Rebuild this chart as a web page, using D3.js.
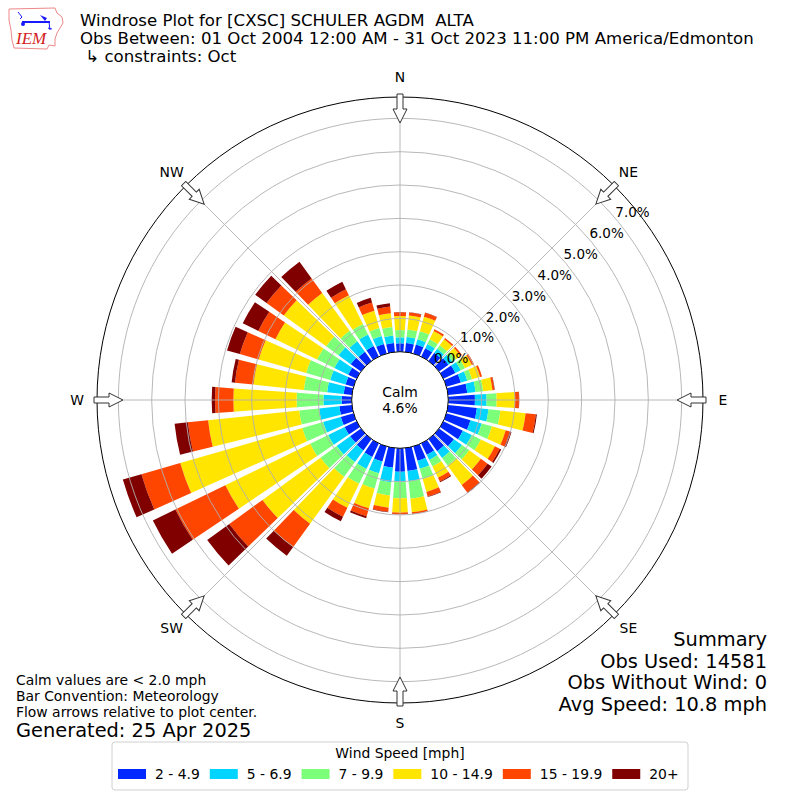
<!DOCTYPE html>
<html>
<head>
<meta charset="utf-8">
<script src="https://cdn.jsdelivr.net/npm/d3@7"></script>
<style>
  body { margin: 0; background: #fff; }
  svg { font-family: "DejaVu Sans", sans-serif; }
  text { white-space: pre; }
</style>
</head>
<body>
<svg width="800" height="800"></svg>
<script>
// directions (deg, meteorological) and frequency (%) per speed bin
const directions = d3.range(0, 360, 10);
const speedBins = ['2 - 4.9', '5 - 6.9', '7 - 9.9', '10 - 14.9', '15 - 19.9', '20+'];
const binColors = ['#0028ff', '#00d4ff', '#7cff79', '#ffe500', '#ff4600', '#800000'];

const bin1 = [0.25,0.27,0.28,0.28,0.30,0.35,0.40,0.45,0.58,0.80,0.87,0.75,0.65,0.55,0.45,0.38,0.45,0.69,0.70,0.59,0.47,0.45,0.42,0.40,0.40,0.40,0.38,0.30,0.25,0.25,0.28,0.38,0.34,0.35,0.30,0.27];
const bin2 = [0.18,0.18,0.17,0.14,0.15,0.15,0.18,0.20,0.25,0.35,0.35,0.35,0.30,0.30,0.25,0.17,0.25,0.31,0.30,0.44,0.37,0.40,0.43,0.50,0.55,0.55,0.61,0.55,0.50,0.48,0.46,0.45,0.39,0.39,0.25,0.23];
const bin3 = [0.22,0.23,0.25,0.16,0.13,0.12,0.14,0.15,0.23,0.30,0.36,0.32,0.30,0.27,0.28,0.22,0.32,0.53,0.50,0.40,0.48,0.50,0.55,0.60,0.60,0.65,0.60,0.80,0.70,0.75,0.58,0.46,0.39,0.35,0.25,0.25];
const bin4 = [0.42,0.42,0.45,0.27,0.22,0.18,0.23,0.25,0.28,0.55,0.76,0.43,0.47,0.43,0.72,0.38,0.40,0.41,0.43,0.37,0.61,0.80,1.74,2.15,2.83,3.81,2.75,1.90,1.52,1.48,1.39,1.57,1.40,0.96,0.54,0.42];
const bin5 = [0.11,0.09,0.12,0.06,0.05,0.05,0.07,0.06,0.06,0.12,0.31,0.13,0.16,0.25,0.28,0.12,0.14,0.04,0.04,0.12,0.25,0.30,0.86,1.23,1.67,1.21,0.61,0.55,0.56,0.59,0.57,0.64,0.54,0.20,0.25,0.20];
const bin6 = [0.01,0.01,0.01,0.00,0.00,0.00,0.00,0.00,0.01,0.01,0.03,0.05,0.05,0.15,0.02,0.03,0.02,0.01,0.01,0.02,0.06,0.15,0.33,0.82,0.75,0.58,0.40,0.10,0.10,0.40,0.52,0.42,0.62,0.25,0.15,0.10];

const ringTicks = [0, 1, 2, 3, 4, 5, 6, 7];
const compass = [['N', 0], ['NE', 45], ['E', 90], ['SE', 135], ['S', 180], ['SW', 225], ['W', 270], ['NW', 315]];
const calmPct = '4.6%';

const titleLines = ['Windrose Plot for [CXSC] SCHULER AGDM  ALTA',
    'Obs Between: 01 Oct 2004 12:00 AM - 31 Oct 2023 11:00 PM America/Edmonton',
    ' \u21b3 constraints: Oct'];
const summaryLines = ['Summary', 'Obs Used: 14581', 'Obs Without Wind: 0', 'Avg Speed: 10.8 mph'];
const noteLines = ['Calm values are < 2.0 mph', 'Bar Convention: Meteorology', 'Flow arrows relative to plot center.'];

const svg = d3.select('svg');
const cx = 400, cy = 400;

const r = d3.scaleLinear().domain([0, 7.64]).range([48.3, 303]);
const ang = d3.scaleLinear().domain([0, 360]).range([0, 2 * Math.PI]);

const rows = directions.map((d, i) => ({
    dir: d, b0: bin1[i], b1: bin2[i], b2: bin3[i], b3: bin4[i], b4: bin5[i], b5: bin6[i]
}));
const keys = ['b0', 'b1', 'b2', 'b3', 'b4', 'b5'];
const series = d3.stack().keys(keys)(rows);

const rose = svg.append('g').attr('transform', `translate(${cx},${cy})`);

const arc = d3.arc()
    .innerRadius(d => r(d[0]))
    .outerRadius(d => r(d[1]))
    .startAngle(d => ang(d.data.dir - 4))
    .endAngle(d => ang(d.data.dir + 4));

rose.append('g').selectAll('g')
    .data(series)
    .join('g')
    .attr('fill', (s, i) => binColors[i])
    .selectAll('path')
    .data(s => s)
    .join('path')
    .attr('d', arc);

// grid
rose.append('g').selectAll('circle')
    .data(ringTicks.slice(1))
    .join('circle')
    .attr('r', d => r(d))
    .attr('fill', 'none')
    .attr('stroke', '#b0b0b0')
    .attr('stroke-width', 0.9);

rose.append('g').selectAll('line')
    .data(compass)
    .join('line')
    .attr('x1', 0).attr('y1', 0)
    .attr('x2', d => r(7.64) * Math.sin(ang(d[1])))
    .attr('y2', d => -r(7.64) * Math.cos(ang(d[1])))
    .attr('stroke', '#b0b0b0')
    .attr('stroke-width', 0.9);

rose.append('circle')
    .attr('r', r(7.64))
    .attr('fill', 'none')
    .attr('stroke', 'black')
    .attr('stroke-width', 1);

// calm circle
rose.append('circle')
    .attr('r', r(0))
    .attr('fill', 'white')
    .attr('stroke', 'black')
    .attr('stroke-width', 1);

rose.append('text').text('Calm')
    .attr('text-anchor', 'middle').attr('y', -3).attr('font-size', 13.9);
rose.append('text').text(calmPct)
    .attr('text-anchor', 'middle').attr('y', 13).attr('font-size', 13.9);

// ring labels
const labAng = ang(51);
rose.append('g').selectAll('text')
    .data(ringTicks)
    .join('text')
    .text(d => d.toFixed(1) + '%')
    .attr('x', d => (r(d) + 17.5) * Math.sin(labAng))
    .attr('y', d => -(r(d) + 17.5) * Math.cos(labAng))
    .attr('dy', '0.36em')
    .attr('text-anchor', 'middle')
    .attr('font-size', 13.5);

// flow arrows
const arrowPath = 'M0,-277 L7,-291 L3,-291 L3,-306 L-3,-306 L-3,-291 L-7,-291 Z';
rose.append('g').selectAll('path')
    .data(compass)
    .join('path')
    .attr('d', arrowPath)
    .attr('transform', d => `rotate(${d[1]})`)
    .attr('fill', 'white')
    .attr('stroke', '#333')
    .attr('stroke-width', 1);

rose.append('g').selectAll('text')
    .data(compass)
    .join('text')
    .text(d => d[0])
    .attr('x', d => 323 * Math.sin(ang(d[1])))
    .attr('y', d => -323 * Math.cos(ang(d[1])))
    .attr('dy', '0.36em')
    .attr('text-anchor', 'middle')
    .attr('font-size', 13.9);

// title
svg.append('g').selectAll('text')
    .data(titleLines)
    .join('text')
    .text(d => d)
    .attr('x', 80)
    .attr('y', (d, i) => 26 + i * 18)
    .attr('font-size', 16.6);

// logo
const logo = svg.append('g');
logo.append('path')
    .attr('d', 'M9,9 L55,8 L57,13 L62,17 L63,23 L60,28 L57,33 L55,39 L55,46 L49,45 L47,49 L14,48 L12,40 L11,30 L9,20 Z')
    .attr('fill', 'none').attr('stroke', '#e88').attr('stroke-width', 1);
logo.append('line').attr('x1', 22).attr('y1', 22).attr('x2', 50).attr('y2', 22)
    .attr('stroke', '#1a1aff').attr('stroke-width', 2);
logo.append('path').attr('d', 'M40,15 L47,18 L45,21 Z').attr('fill', '#1a1aff');
logo.append('path').attr('d', 'M18,12 L22,17 L20,19').attr('fill', 'none').attr('stroke', '#1a1aff');
logo.append('circle').attr('cx', 23).attr('cy', 24).attr('r', 2).attr('fill', '#1a1aff');
logo.append('path').attr('d', 'M49,22 L50,30 M48,28 L52,29').attr('stroke', '#1a1aff').attr('fill', 'none');
logo.append('text').text('IEM').attr('x', 16).attr('y', 44)
    .attr('font-family', 'Liberation Serif, serif').attr('font-style', 'italic')
    .attr('font-size', 17).attr('fill', '#d42020');

// summary
svg.append('g').selectAll('text')
    .data(summaryLines)
    .join('text')
    .text(d => d)
    .attr('x', 767)
    .attr('y', (d, i) => 646 + i * 21.7)
    .attr('text-anchor', 'end')
    .attr('font-size', 19.4);

svg.append('g').selectAll('text')
    .data(noteLines)
    .join('text')
    .text(d => d)
    .attr('x', 16)
    .attr('y', (d, i) => 685 + i * 16)
    .attr('font-size', 13.9);

svg.append('text').text('Generated: 25 Apr 2025')
    .attr('x', 16).attr('y', 737).attr('font-size', 19.4);

// legend
const legend = svg.append('g');
legend.append('rect')
    .attr('x', 112).attr('y', 742).attr('width', 576).attr('height', 48)
    .attr('rx', 3).attr('fill', 'white').attr('stroke', '#d0d0d0');
legend.append('text').text('Wind Speed [mph]')
    .attr('x', 400).attr('y', 758).attr('text-anchor', 'middle').attr('font-size', 13.9);

let lx = 118;
speedBins.forEach((lab, i) => {
    legend.append('rect')
        .attr('x', lx).attr('y', 769).attr('width', 28).attr('height', 10)
        .attr('fill', binColors[i]);
    const t = legend.append('text').text(lab)
        .attr('x', lx + 37).attr('y', 779).attr('font-size', 13.9);
    lx += 37 + t.node().getComputedTextLength() + 10;
});
</script>
</body>
</html>
